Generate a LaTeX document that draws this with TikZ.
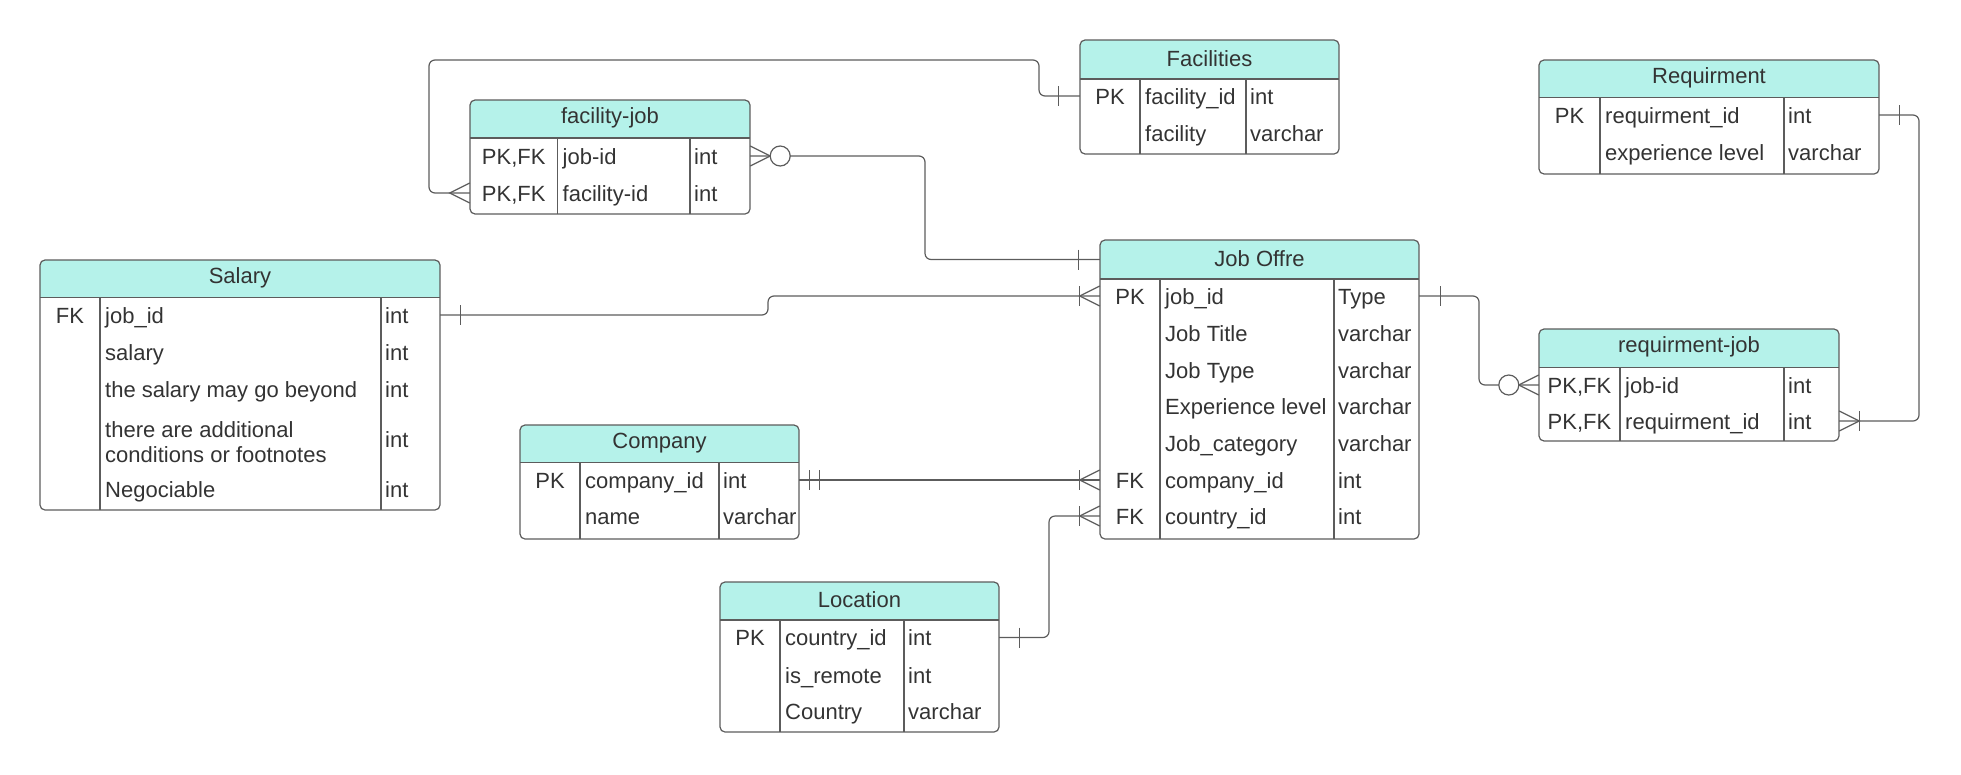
\documentclass[tikz,border=0pt]{standalone}
\usepackage{fontspec}
\setmainfont{Liberation Sans}
\usetikzlibrary{calc}
\definecolor{headfill}{HTML}{B5F2EA}
\definecolor{linecol}{HTML}{5C5C5C}
\definecolor{txtcol}{HTML}{333333}
\tikzset{
  tabline/.style={draw=linecol, line width=1.2pt},
  conn/.style={draw=linecol, line width=1.2pt},
  headtxt/.style={font=\fontsize{22}{25}\selectfont, text=txtcol, inner sep=0pt},
  celltxt/.style={font=\fontsize{22}{25}\selectfont, text=txtcol, inner sep=0pt, text height=15.5pt, text depth=5pt, yshift=-3pt},
  rowbox/.style={inner sep=0pt, minimum height=1pt},
}
% #1 name, #2 x1, #3 x2, #4 ytop, #5 yhead, #6 ybot, #7 c1, #8 c2, #9 title
\newcommand\ertab[9]{%
  \xdef\tX{#2}\xdef\tXb{#3}\xdef\tC{#7}\xdef\tD{#8}\xdef\tN{#1}%
  \pgfmathsetmacro\tWtmp{#3-#2}\xdef\tW{\tWtmp}%
  \pgfmathsetmacro\tHtmp{#5-#4}%
  \begin{scope}
    \clip[rounded corners=5pt] (#2,#4) rectangle (#3,#6);
    \fill[headfill] (#2,#4) rectangle (#3,#5);
  \end{scope}
  \draw[tabline, rounded corners=5pt] (#2,#4) rectangle (#3,#6);
  \draw[tabline] (#2,#5) -- (#3,#5);
  \draw[tabline] (#7,#5) -- (#7,#6);
  \draw[tabline] (#8,#5) -- (#8,#6);
  \node[headtxt, minimum width=\tW pt, minimum height=\tHtmp pt] (#1-h) at ({(#2+#3)/2},{(#4+#5)/2}) {};
  \node[headtxt, yshift=1pt] (#1-ht) at (#1-h.center) {#9};
}
% #1 idx, #2 y, #3 key, #4 field, #5 type
\newcommand\errow[5]{%
  \node[rowbox, minimum width=\tW pt] (\tN-#1) at ({(\tX+\tXb)/2},#2) {};
  \node[celltxt] (\tN-#1-k) at ({(\tX+\tC)/2},#2) {#3};
  \node[celltxt, anchor=west] (\tN-#1-f) at (\tC+5,#2) {#4};
  \node[celltxt, anchor=west] (\tN-#1-t) at (\tD+4,#2) {#5};
}
% markers: #1 anchor, #2 direction (-1 left, +1 right)
\newcommand\mbar[3]{\draw[conn] ($(#1)+(#2*#3,-10)$) -- ($(#1)+(#2*#3,10)$);}
\newcommand\mcrow[2]{\draw[conn] ($(#1)+(0,-10)$) -- ($(#1)+(#2*20,0)$) -- ($(#1)+(0,10)$);}
\newcommand\mcirc[2]{\draw[conn, fill=white] ($(#1)+(#2*30,0)$) circle[radius=10pt];}
\begin{document}
\begin{tikzpicture}[x=1pt, y=-1pt]
\useasboundingbox (0,0) rectangle (1961,774);

% Facilities
\ertab{fac}{1080}{1339}{40}{79}{154}{1140}{1246}{Facilities}
\errow{1}{96}{PK}{facility\_id}{int}
\errow{2}{133}{}{facility}{varchar}

% facility-job
\ertab{fj}{470}{750}{100}{138}{214}{557.5}{690}{facility-job}
\errow{1}{156}{PK,FK}{job-id}{int}
\errow{2}{193}{PK,FK}{facility-id}{int}

% Requirment
\ertab{req}{1539}{1879}{60}{97.5}{174}{1600}{1784}{Requirment}
\errow{1}{115}{PK}{requirment\_id}{int}
\errow{2}{152}{}{experience level}{varchar}

% Salary
\ertab{sal}{40}{440}{260}{297.5}{510}{100}{381}{Salary}
\errow{1}{315}{FK}{job\_id}{int}
\errow{2}{352}{}{salary}{int}
\errow{3}{389}{}{the salary may go beyond}{int}
\node[rowbox, minimum width=\tW pt] (sal-4) at (240,439) {};
\node[celltxt, anchor=west, align=left, text height=, text depth=, yshift=0pt] (sal-4-f) at (105,439) {there are additional\\conditions or footnotes};
\node[celltxt, anchor=west] (sal-4-t) at (385,439) {int};
\errow{5}{489}{}{Negociable}{int}

% Job Offre
\ertab{jo}{1100}{1419}{240}{279}{539}{1160}{1334}{Job Offre}
\errow{1}{296}{PK}{job\_id}{Type}
\errow{2}{333}{}{Job Title}{varchar}
\errow{3}{370}{}{Job Type}{varchar}
\errow{4}{406}{}{Experience level}{varchar}
\errow{5}{443}{}{Job\_category}{varchar}
\errow{6}{480}{FK}{company\_id}{int}
\errow{7}{516}{FK}{country\_id}{int}

% requirment-job
\ertab{rj}{1539}{1839}{329}{367.5}{441}{1620}{1784}{requirment-job}
\errow{1}{385}{PK,FK}{job-id}{int}
\errow{2}{421}{PK,FK}{requirment\_id}{int}

% Company
\ertab{co}{520}{799}{425}{462.5}{539}{580}{719}{Company}
\errow{1}{480}{PK}{company\_id}{int}
\errow{2}{516}{}{name}{varchar}

% Location
\ertab{loc}{720}{999}{582}{620}{732}{780}{904}{Location}
\errow{1}{637.5}{PK}{country\_id}{int}
\errow{2}{675}{}{is\_remote}{int}
\errow{3}{711}{}{Country}{varchar}

% bend coordinates
\coordinate (b1a) at (1039,60);
\coordinate (b1b) at (429,60);
\coordinate (b2) at (925,0);
\coordinate (b3) at (768,0);
\coordinate (b5) at (1049,0);
\coordinate (b6) at (1479,0);
\coordinate (b7) at (1919,0);

% connectors
\draw[conn, rounded corners=6pt] (fac-1.west) -| (b1a) -- (b1b) |- (fj-2.west);
\draw[conn, rounded corners=6pt] (fj-1.east) -| (b2 |- jo-h.west) -- (jo-h.west);
\draw[conn, rounded corners=6pt] (sal-1.east) -| (b3 |- jo-1.west) -- (jo-1.west);
\draw[conn] (co-1.east) -- (jo-6.west);
\draw[conn, rounded corners=6pt] (loc-1.east) -| (b5 |- jo-7.west) -- (jo-7.west);
\draw[conn, rounded corners=6pt] (jo-1.east) -| (b6 |- rj-1.west) -- (rj-1.west);
\draw[conn, rounded corners=6pt] (req-1.east) -| (b7 |- rj-2.east) -- (rj-2.east);

% end markers
\mbar{fac-1.west}{-1}{21}
\mcrow{fj-2.west}{-1}
\mcrow{fj-1.east}{1}\mcirc{fj-1.east}{1}
\mbar{jo-h.west}{-1}{21}
\mbar{sal-1.east}{1}{20}
\mcrow{jo-1.west}{-1}\mbar{jo-1.west}{-1}{20}
\mbar{co-1.east}{1}{10}\mbar{co-1.east}{1}{20}
\mcrow{jo-6.west}{-1}\mbar{jo-6.west}{-1}{20}
\mbar{loc-1.east}{1}{20}
\mcrow{jo-7.west}{-1}\mbar{jo-7.west}{-1}{20}
\mbar{jo-1.east}{1}{21}
\mcrow{rj-1.west}{-1}\mcirc{rj-1.west}{-1}
\mbar{req-1.east}{1}{20}
\mcrow{rj-2.east}{1}\mbar{rj-2.east}{1}{20}
\end{tikzpicture}
\end{document}
